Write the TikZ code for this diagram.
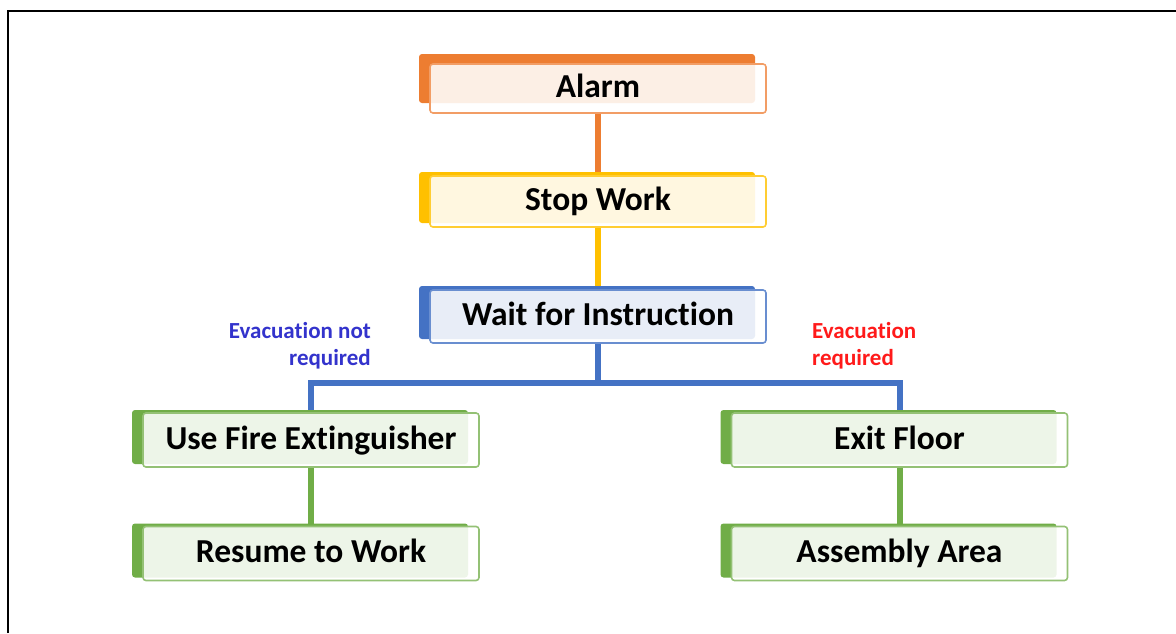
\documentclass[tikz,border=0pt]{standalone}
\usepackage{fontspec}
\setmainfont[Ligatures={NoCommon,NoContextual,NoRequired},Contextuals=NoAlternate]{Carlito}
\usetikzlibrary{shadows,backgrounds}
\definecolor{alarmorange}{HTML}{ED7D31}
\definecolor{stopyellow}{HTML}{FFC000}
\definecolor{waitblue}{HTML}{4472C4}
\definecolor{actgreen}{HTML}{70AD47}
\definecolor{evacblue}{HTML}{3333CC}
\definecolor{evacred}{HTML}{FF1A1A}
\tikzstyle{stepbox} = [rectangle, rounded corners=3pt, minimum width=336pt, minimum height=50pt,
text centered, line width=1.6pt, fill=white, fill opacity=0.88, text opacity=1, text=black,
text height=21pt, text depth=3pt, font=\fontsize{33.5}{40}\selectfont\bfseries]
\tikzstyle{alarmbox} = [stepbox, draw=alarmorange!75, minimum height=49pt,
general shadow={fill=alarmorange, fill opacity=1, shadow xshift=-11pt, shadow yshift=10pt}]
\tikzstyle{stopbox} = [stepbox, draw=stopyellow!80, minimum height=51pt,
general shadow={fill=stopyellow, fill opacity=1, shadow xshift=-11pt, shadow yshift=4pt}]
\tikzstyle{waitbox} = [stepbox, draw=waitblue!80, minimum height=53pt,
general shadow={fill=waitblue, fill opacity=1, shadow xshift=-11pt, shadow yshift=4pt}]
\tikzstyle{actbox} = [stepbox, draw=actgreen!75, minimum height=54pt,
general shadow={fill=actgreen, fill opacity=1, shadow xshift=-11pt, shadow yshift=3pt}]
\tikzstyle{link} = [line width=6pt]
\tikzstyle{evac} = [inner sep=0pt, font=\fontsize{23}{27}\selectfont\bfseries]

\begin{document}
\begin{tikzpicture}[x=1pt, y=-1pt]
        \useasboundingbox (0,0) rectangle (1176,633);
        \draw[line width=1.5pt] (8,633) -- (8,11) -- (1176,11);

        \draw (598,88.5) node[alarmbox] (alarm) {Alarm};
        \draw (598,201.5) node[stopbox] (stop) {Stop Work};
        \draw (598,316.5) node[waitbox] (wait) {Wait for Instruction};

        \draw (311,440) node[actbox] (fire) {Use Fire Extinguisher};
        \draw (311,553.5) node[actbox] (resume) {Resume to Work};
        \draw (899.5,440) node[actbox] (exit) {Exit Floor};
        \draw (899.5,553.5) node[actbox] (assembly) {Assembly Area};

        \draw (371,322) node[evac, anchor=north east, align=right, text=evacblue]
        (stay) {Evacuation not\\required};
        \draw (812,322) node[evac, anchor=north west, align=left, text=evacred]
        (leave) {Evacuation\\required};

        \coordinate (fork) at (598,383);

        % Links
        \begin{scope}[on background layer]
        \draw[link, alarmorange] (alarm.south) -- (stop.north);
        \draw[link, stopyellow] (stop.south) -- (wait.north);
        \draw[link, waitblue] (wait.south) -- (fork);
        \draw[link, waitblue] (fork) -| (fire.north);
        \draw[link, waitblue] (fork) -| (exit.north);
        \draw[link, actgreen] (fire.south) -- (resume.north);
        \draw[link, actgreen] (exit.south) -- (assembly.north);
        \end{scope}
    \end{tikzpicture}
\end{document}
